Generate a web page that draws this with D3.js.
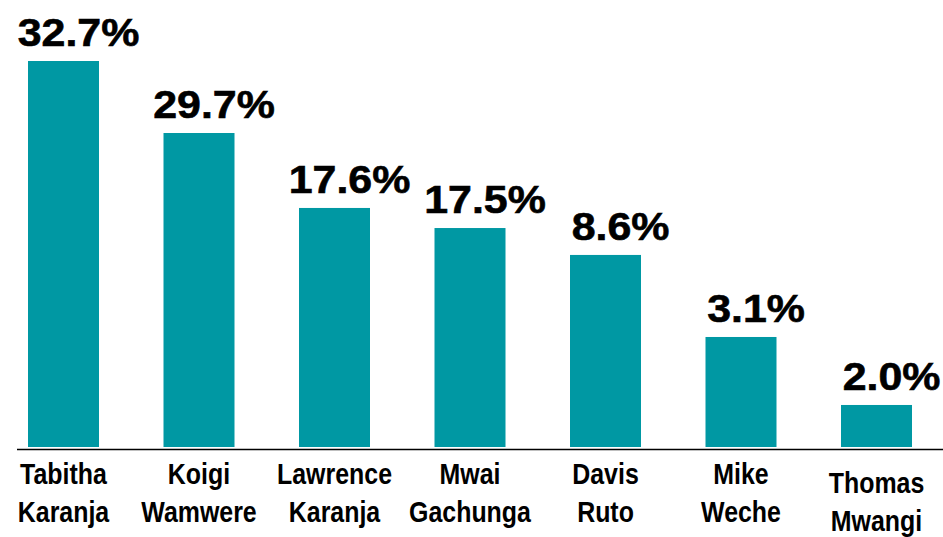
<!DOCTYPE html>
<html>
<head>
<meta charset="utf-8">
<script src="https://cdn.jsdelivr.net/npm/d3@7"></script>
<style>
  body { margin: 0; background: #fff; }
  svg { display: block; }
</style>
</head>
<body>
<svg width="943" height="537"></svg>
<script>
// Candidates, two-line names
var names = [
    ["Tabitha", "Karanja"],
    ["Koigi", "Wamwere"],
    ["Lawrence", "Karanja"],
    ["Mwai", "Gachunga"],
    ["Davis", "Ruto"],
    ["Mike", "Weche"],
    ["Thomas", "Mwangi"]
];

// Share printed above each bar
var shares = [32.7, 29.7, 17.6, 17.5, 8.6, 3.1, 2.0];

// Bar lengths as drawn in the picture (same % units, not proportional to the labels)
var barLengths = [32.7, 26.6, 20.25, 18.55, 16.27, 9.32, 3.56];

var svg = d3.select("svg"),
    width = +svg.attr("width"),
    height = +svg.attr("height");

var baseline = 447;

// Scales
var x = d3.scaleBand()
    .domain(d3.range(names.length))
    .range([-4.25, 944.25])
    .paddingInner(0.476)
    .paddingOuter(0.238);

var y = d3.scaleLinear()
    .domain([0, 32.7])
    .range([baseline, 61]);

// Bars
svg.append("g")
    .selectAll("rect")
    .data(barLengths)
    .enter()
    .append("rect")
    .attr("x", (d, i) => x(i))
    .attr("width", x.bandwidth())
    .attr("y", d => y(d))
    .attr("height", d => baseline - y(d))
    .attr("fill", "#0098a3");

// Baseline
svg.append("line")
    .attr("x1", 17)
    .attr("x2", width)
    .attr("y1", 449.5)
    .attr("y2", 449.5)
    .attr("stroke", "#000")
    .attr("stroke-width", 1.5);

// Value labels (bold, a little wide)
svg.append("g")
    .selectAll("text")
    .data(shares)
    .enter()
    .append("text")
    .attr("transform", (d, i) =>
        "translate(" + (x(i) + x.bandwidth() / 2 + 15) + "," + (y(barLengths[i]) - 15) + ") scale(1.1,1)")
    .attr("text-anchor", "middle")
    .style("font-family", "'Liberation Sans', Arial, sans-serif")
    .style("font-weight", "bold")
    .style("font-size", "39px")
    .style("stroke", "#000")
    .style("stroke-width", "0.6px")
    .attr("fill", "#000")
    .text(d => d.toFixed(1) + "%");

// Category labels (bold, narrow)
var cats = svg.append("g")
    .selectAll("text")
    .data(names)
    .enter()
    .append("text")
    .attr("transform", (d, i) =>
        "translate(" + (x(i) + x.bandwidth() / 2) + "," + (i === names.length - 1 ? 493 : 484) + ") scale(0.86,1)")
    .attr("text-anchor", "middle")
    .style("font-family", "'Liberation Sans', Arial, sans-serif")
    .style("font-weight", "bold")
    .style("font-size", "29px")
    .attr("fill", "#000");

cats.selectAll("tspan")
    .data(d => d)
    .enter()
    .append("tspan")
    .attr("x", 0)
    .attr("dy", (d, j) => j === 0 ? 0 : 38.5)
    .text(d => d);
</script>
</body>
</html>
